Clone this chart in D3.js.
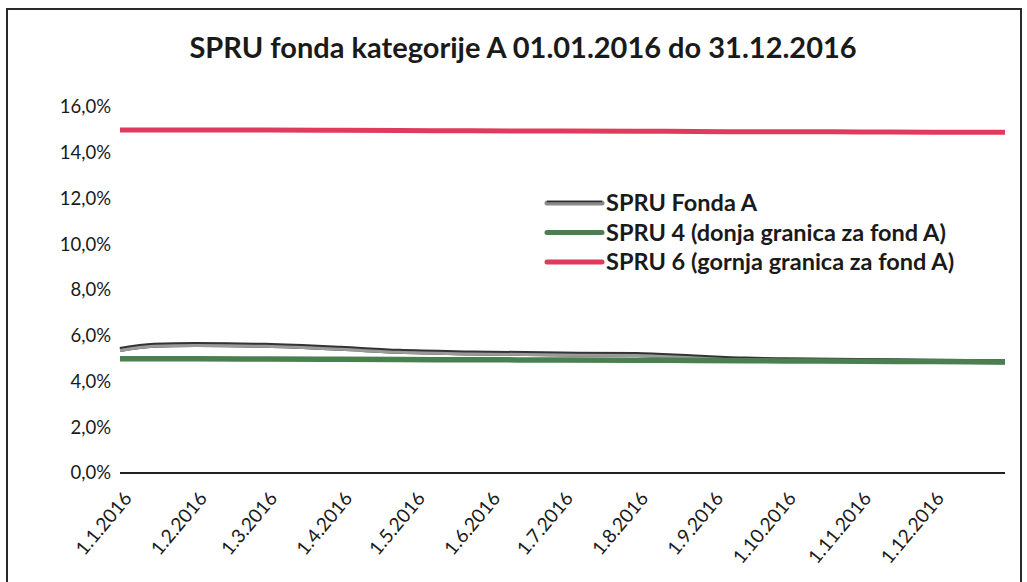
<!DOCTYPE html>
<meta charset="utf-8">
<style>
  body { margin: 0; background: #fff; }
  text { font-family: Lato, "Open Sans", sans-serif; fill: #1a1a1a; }
</style>
<body></body>
<script src="https://cdn.jsdelivr.net/npm/d3@7"></script>
<script>

const width = 1027, height = 582;

// dates of the readings (d.m.yyyy)
const dates = ["1.1.2016", "15.1.2016", "1.2.2016", "20.2.2016", "1.3.2016", "1.4.2016", "25.4.2016",
  "25.5.2016", "1.7.2016", "1.8.2016", "25.8.2016", "15.9.2016", "1.10.2016", "1.11.2016", "1.12.2016", "31.12.2016"];

// values in percent
const fondA  = [5.40, 5.58, 5.62, 5.60, 5.58, 5.45, 5.32, 5.25, 5.20, 5.18, 5.07, 4.98, 4.95, 4.92, 4.89, 4.86];
const spru4  = [5.00, 4.99, 4.99, 4.98, 4.98, 4.97, 4.96, 4.95, 4.94, 4.93, 4.92, 4.91, 4.90, 4.89, 4.87, 4.85];
const spru6  = [15.00, 15.00, 15.00, 14.99, 14.99, 14.98, 14.97, 14.96, 14.95, 14.94, 14.93, 14.92, 14.92, 14.91, 14.90, 14.90];

const seriesNames = ["SPRU Fonda A", "SPRU 4 (donja granica za fond A)", "SPRU 6 (gornja granica za fond A)"];
const yTicks = [0, 2, 4, 6, 8, 10, 12, 14, 16];
const xTickLabels = ["1.1.2016", "1.2.2016", "1.3.2016", "1.4.2016", "1.5.2016", "1.6.2016",
  "1.7.2016", "1.8.2016", "1.9.2016", "1.10.2016", "1.11.2016", "1.12.2016"];

const parse = d3.timeParse("%d.%m.%Y");

const x = d3.scaleTime()
    .domain([parse("1.1.2016"), parse("31.12.2016")])
    .range([120, 1005]);

const y = d3.scaleLinear()
    .domain([0, 16])
    .range([473, 107]);

const svg = d3.select("body").append("svg")
    .attr("width", width)
    .attr("height", height);

// outer frame
svg.append("path")
    .attr("d", "M7,600 L7,9 L1021,9 L1021,600")
    .attr("fill", "none")
    .attr("stroke", "#2a2a2a")
    .attr("stroke-width", 2);

svg.append("text")
    .attr("x", 523)
    .attr("y", 58)
    .attr("text-anchor", "middle")
    .attr("font-size", 29)
    .attr("font-weight", "bold")
    .text("SPRU fonda kategorije A 01.01.2016 do 31.12.2016");

// y axis labels, no line
const yAxis = svg.append("g")
    .attr("transform", "translate(111,0)")
    .call(d3.axisLeft(y).tickValues(yTicks).tickSize(0).tickPadding(0)
      .tickFormat(d => d3.format(".1f")(d).replace(".", ",") + "%"));
yAxis.select(".domain").remove();
yAxis.selectAll("text")
    .attr("font-size", 18.5)
    .attr("fill", "#1a1a1a");

// x axis labels, rotated
const xAxis = svg.append("g")
    .attr("transform", `translate(0,${y(0)})`)
    .call(d3.axisBottom(x).tickValues(xTickLabels.map(parse)).tickSize(0)
      .tickFormat((d, i) => xTickLabels[i]));
xAxis.select(".domain").remove();
xAxis.selectAll("text")
    .attr("font-size", 19)
    .attr("fill", "#1a1a1a")
    .attr("text-anchor", "end")
    .attr("dy", 0)
    .attr("transform", "translate(10,24) rotate(-50)");

// zero line
svg.append("line")
    .attr("x1", x.range()[0])
    .attr("x2", x.range()[1])
    .attr("y1", y(0))
    .attr("y2", y(0))
    .attr("stroke", "#222")
    .attr("stroke-width", 2);

const line = d3.line()
    .x((d, i) => x(parse(dates[i])))
    .y(d => y(d))
    .curve(d3.curveMonotoneX);

// fond A: dark edge with grey core
svg.append("path")
    .attr("d", line(fondA))
    .attr("fill", "none")
    .attr("stroke", "#333")
    .attr("stroke-width", 5);
svg.append("path")
    .attr("d", line(fondA))
    .attr("transform", "translate(0,1)")
    .attr("fill", "none")
    .attr("stroke", "#9a9a9a")
    .attr("stroke-width", 3);

svg.append("path")
    .attr("d", line(spru4))
    .attr("fill", "none")
    .attr("stroke", "#4a8050")
    .attr("stroke-width", 5.5);

svg.append("path")
    .attr("d", line(spru6))
    .attr("fill", "none")
    .attr("stroke", "#e03a5c")
    .attr("stroke-width", 5);

// legend
const legendColors = ["#8a8a8a", "#4a8050", "#e03a5c"];
const legend = svg.append("g")
    .selectAll("g")
    .data(seriesNames)
    .join("g")
    .attr("transform", (d, i) => `translate(547,${203 + i * 29.5})`);

legend.append("line")
    .attr("x1", 0)
    .attr("x2", 55)
    .attr("stroke", (d, i) => legendColors[i])
    .attr("stroke-width", 5)
    .attr("stroke-linecap", "round");
legend.filter((d, i) => i === 0).append("line")
    .attr("x1", 0)
    .attr("x2", 55)
    .attr("y1", -1.5)
    .attr("y2", -1.5)
    .attr("stroke", "#2e2e2e")
    .attr("stroke-width", 1.5);

legend.append("text")
    .attr("x", 59)
    .attr("dy", "0.36em")
    .attr("font-size", 23.5)
    .attr("font-weight", "bold")
    .text(d => d);

</script>
